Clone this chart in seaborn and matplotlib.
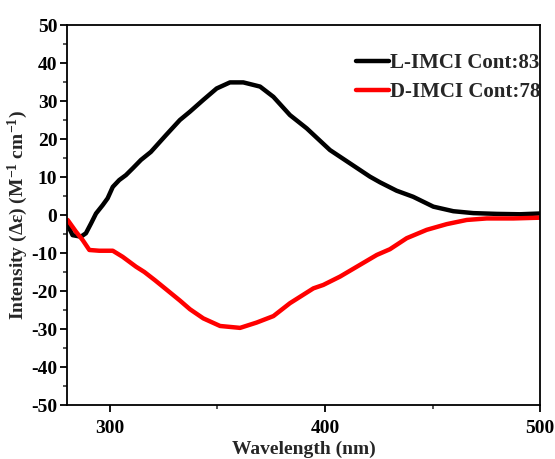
import numpy as np
import pandas as pd
import matplotlib
matplotlib.use("Agg")
import matplotlib.pyplot as plt
from matplotlib.ticker import MultipleLocator
import seaborn as sns

# CD spectra of the two enantiomers
wl_l = [280.3, 282.6, 286.5, 288.8, 291.2, 293.5, 296.6, 298.9, 301.3, 304.3,
        307.4, 310.6, 314.4, 319, 326, 332.5, 337.2, 343.4, 349.6, 355.8, 362,
        369.8, 376, 383.7, 391.5, 402.3, 411.6, 420.9, 425.6, 433.3, 441,
        450.4, 459.7, 469, 479.9, 490.7, 500]
cd_l = [-2.6, -5.3, -5.7, -4.8, -2.2, 0.4, 2.6, 4.4, 7.4, 9.2, 10.5, 12.3, 14.5,
        16.6, 21.0, 25.0, 27.2, 30.3, 33.3, 34.9, 34.9, 33.8, 31.1, 26.3, 22.8,
        17.1, 13.6, 10.1, 8.6, 6.4, 4.8, 2.2, 1.0, 0.5, 0.3, 0.2, 0.4]

wl_d = [280.3, 284.2, 287.3, 290.4, 295, 301.3, 305.9, 312.1, 316, 321, 326,
        332.5, 337.2, 343.4, 351.2, 360.5, 368.2, 376, 383.7, 394.6, 399.2, 407,
        414.8, 424.1, 430.2, 438, 447.3, 456.6, 465.9, 475.2, 487.6, 500]
cd_d = [-1.3, -4.4, -6.6, -9.2, -9.4, -9.4, -11.0, -13.6, -15.0, -17.2, -19.5,
        -22.5, -24.8, -27.2, -29.2, -29.7, -28.3, -26.6, -23.2, -19.3, -18.4,
        -16.2, -13.6, -10.5, -9.0, -6.1, -3.9, -2.4, -1.3, -0.9, -0.9, -0.7]

labels = ["L-IMCI Cont:83", "D-IMCI Cont:78"]
colors = ["#000000", "#ff0000"]

df = pd.concat([
    pd.DataFrame({"wl": wl_l, "cd": cd_l, "sample": labels[0]}),
    pd.DataFrame({"wl": wl_d, "cd": cd_d, "sample": labels[1]}),
])

sns.set_style("ticks")
plt.rcParams["font.family"] = ["Liberation Serif", "DejaVu Serif"]
plt.rcParams["font.weight"] = "bold"
plt.rcParams["axes.unicode_minus"] = False
plt.rcParams["mathtext.fontset"] = "custom"
plt.rcParams["mathtext.rm"] = "Liberation Serif:bold"
plt.rcParams["mathtext.bf"] = "Liberation Serif:bold"
plt.rcParams["mathtext.default"] = "bf"
plt.rcParams["lines.solid_joinstyle"] = "round"
plt.rcParams["lines.solid_capstyle"] = "round"

fig = plt.figure(figsize=(5.55, 4.59), dpi=100)
ax = fig.add_axes([0.1207, 0.1176, 0.8523, 0.8279])

sns.lineplot(data=df, x="wl", y="cd", hue="sample", palette=colors,
             linewidth=3.2, ax=ax, sort=True, estimator=None)

ax.set_xlim(280, 500)
ax.set_ylim(-50, 50)
ax.xaxis.set_major_locator(MultipleLocator(100))
ax.xaxis.set_minor_locator(MultipleLocator(50))
ax.yaxis.set_major_locator(MultipleLocator(10))
ax.yaxis.set_minor_locator(MultipleLocator(5))

for side in ["top", "right", "left", "bottom"]:
    ax.spines[side].set_visible(True)
    ax.spines[side].set_linewidth(1.3)
    ax.spines[side].set_color("black")

ax.tick_params(which="major", direction="out", length=5, width=1.3,
               labelsize=14, colors="black")
ax.tick_params(axis="x", which="major", pad=5.5)
ax.tick_params(axis="y", which="major", pad=2)
ax.tick_params(which="minor", direction="out", length=3, width=1.1)
for lab in ax.get_xticklabels() + ax.get_yticklabels():
    lab.set_fontweight("bold")

ax.set_xlabel("Wavelength (nm)", fontsize=14, fontweight="bold", labelpad=3)
ax.set_ylabel("Intensity (Δε) (M$^{-1}$ cm$^{-1}$)", fontsize=14,
              fontweight="bold", labelpad=0.5)

leg = ax.legend(loc="upper right", bbox_to_anchor=(1.019, 0.948), frameon=False,
                fontsize=15, handlelength=1.6, handletextpad=0.05,
                labelspacing=0.45, borderaxespad=0.0)
for t in leg.get_texts():
    t.set_fontweight("bold")
for line in leg.get_lines():
    line.set_linewidth(3.2)

fig.savefig("out.png", dpi=100)
